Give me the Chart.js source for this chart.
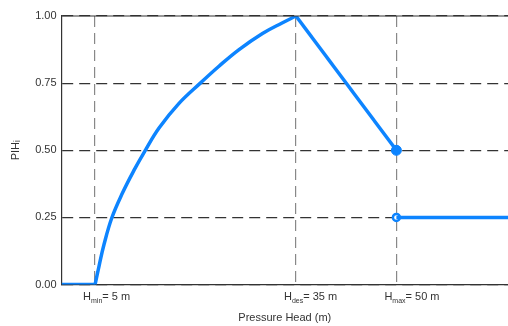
<!DOCTYPE html>
<html>
<head>
<meta charset="utf-8">
<script src="https://cdn.jsdelivr.net/npm/chart.js@4"></script>
<style>
  html, body { margin: 0; padding: 0; background: #fff; }
  #wrap { width: 508px; height: 326px; }
</style>
</head>
<body>
<div id="wrap"><canvas id="myChart" width="508" height="326"></canvas></div>
<script>
// pressure head (m) and the PIH value
const flatHead = [0, 5];
const flatPih = [0, 0];
const curveHead = [5, 5.6, 6.34, 7.49, 9.07, 10.8, 12.5, 14.55, 17.5, 20.8, 23.5, 26.5, 30, 33, 35];
const curvePih = [0, 0.07, 0.15, 0.248, 0.34, 0.425, 0.5, 0.583, 0.674, 0.752, 0.813, 0.875, 0.935, 0.975, 1.0];
const dropHead = [35, 50];
const dropPih = [1.0, 0.5];
const tailHead = [50, 66.67];
const tailPih = [0.25, 0.25];
const dropPoint = [50, 0.5];
const openPoint = [50, 0.25];

const headTicks = [5, 35, 50];
const headSubs = ["min", "des", "max"];
const headTexts = ["= 5 m", "= 35 m", "= 50 m"];
const pihTicks = [0, 0.25, 0.5, 0.75, 1.0];

const blue = "#0d84ff";
const font = "'Liberation Sans', Arial, sans-serif";

const toXY = (xs, ys) => xs.map((x, i) => ({ x: x, y: ys[i] }));

const headLabels = {
    id: "headLabels",
    afterDraw(chart) {
        const ctx = chart.ctx;
        const xs = chart.scales.x;
        const area = chart.chartArea;
        ctx.save();
        // solid top frame line
        ctx.strokeStyle = "#333";
        ctx.lineWidth = 1.2;
        ctx.beginPath();
        ctx.moveTo(area.left, area.top);
        ctx.lineTo(area.right, area.top);
        ctx.stroke();

        ctx.fillStyle = "#333";
        ctx.textBaseline = "alphabetic";
        ctx.textAlign = "left";
        const base = area.bottom + 15;
        headTicks.forEach((t, i) => {
            let x = xs.getPixelForValue(t) - 12;
            ctx.font = "11px " + font;
            ctx.fillText("H", x, base);
            x += ctx.measureText("H").width;
            ctx.font = "7px " + font;
            ctx.fillText(headSubs[i], x, base + 3);
            x += ctx.measureText(headSubs[i]).width;
            ctx.font = "11px " + font;
            ctx.fillText(headTexts[i], x, base);
        });
        ctx.restore();
    }
};

const lineStyle = {
    showLine: true,
    borderColor: blue,
    borderWidth: 3.5,
    pointRadius: 0,
    borderJoinStyle: "round",
};

const ctx = document.getElementById("myChart").getContext("2d");
const myChart = new Chart(ctx, {
    type: "scatter",
    data: {
        datasets: [
            { ...lineStyle, data: toXY(flatHead, flatPih) },
            { ...lineStyle, data: toXY(curveHead, curvePih), tension: 0.4 },
            { ...lineStyle, data: toXY(dropHead, dropPih) },
            { ...lineStyle, data: toXY(tailHead, tailPih) },
            {
                data: [{ x: dropPoint[0], y: dropPoint[1] }],
                pointRadius: 5,
                backgroundColor: blue,
                borderColor: blue,
                borderWidth: 1,
            },
            {
                data: [{ x: openPoint[0], y: openPoint[1] }],
                pointRadius: 3.5,
                backgroundColor: "#fff",
                borderColor: blue,
                borderWidth: 2.5,
            },
        ],
    },
    options: {
        responsive: false,
        animation: false,
        events: [],
        layout: { autoPadding: false, padding: { top: 16, right: 0, bottom: 1, left: 9 } },
        plugins: {
            legend: { display: false },
            tooltip: { enabled: false },
        },
        scales: {
            x: {
                type: "linear",
                min: 0,
                max: 66.67,
                afterBuildTicks: (scale) => {
                    scale.ticks = headTicks.map((v) => ({ value: v }));
                },
                ticks: {
                    color: "rgba(0,0,0,0)",
                    font: { family: font, size: 11 },
                    padding: 4,
                    callback: () => "H",
                },
                grid: { color: "#888", lineWidth: 1.2, drawTicks: false },
                border: { color: "#333", width: 1.2, dash: [11, 6] },
                title: {
                    display: true,
                    text: "Pressure Head (m)",
                    color: "#333",
                    font: { family: font, size: 11 },
                    padding: { top: 6, bottom: 0 },
                },
            },
            y: {
                min: 0,
                max: 1,
                afterBuildTicks: (scale) => {
                    scale.ticks = pihTicks.map((v) => ({ value: v }));
                },
                ticks: {
                    color: "#333",
                    font: { family: font, size: 11 },
                    padding: 5,
                    callback: (v) => v.toFixed(2),
                },
                grid: { color: "#333", lineWidth: 1.2, drawTicks: false },
                border: { color: "#333", width: 1.2, dash: [11, 6] },
                title: {
                    display: true,
                    text: "PIHᵢ",
                    color: "#333",
                    font: { family: font, size: 11 },
                    padding: { top: 0, bottom: 8 },
                },
            },
        },
    },
    plugins: [headLabels],
});
</script>
</body>
</html>
